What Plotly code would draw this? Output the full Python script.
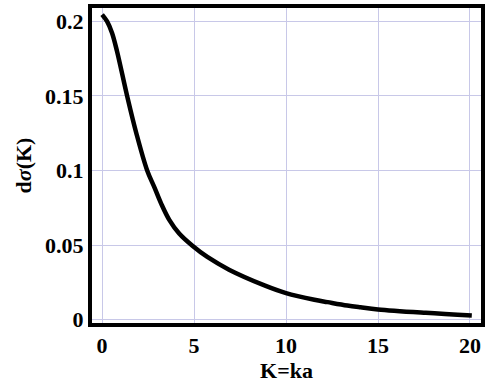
import plotly.graph_objects as go

K = [0.0, 0.27, 0.54, 0.81, 1.36, 1.86, 2.45, 2.85, 3.21, 3.66, 4.19, 4.91, 5.72, 6.9, 8.86, 10.0, 11.54, 12.26, 13.33, 14.05, 15.0, 17.6, 20.1]
dsigma = [0.2046, 0.200, 0.1923, 0.180, 0.150, 0.125, 0.100, 0.0885, 0.0778, 0.0667, 0.0577, 0.0495, 0.042, 0.0335, 0.0228, 0.0178, 0.0133, 0.0117, 0.0094, 0.0082, 0.0068, 0.0045, 0.0027]

x_ticks = [0, 5, 10, 15, 20]
y_ticks = [0, 0.05, 0.1, 0.15, 0.2]
y_tick_text = ["0", "0.05", "0.1", "0.15", "0.2"]

FAM = "Liberation Serif"
font = dict(family=FAM, size=22, color="black")

fig = go.Figure()
fig.add_trace(go.Scatter(x=K, y=dsigma, mode="lines", line=dict(color="black", width=4.5, shape="spline", smoothing=1.0)))

fig.update_layout(
    width=487, height=387,
    margin=dict(l=92, r=2, t=8, b=64),
    paper_bgcolor="white", plot_bgcolor="white",
    showlegend=False,
    font=font,
)
fig.update_xaxes(
    range=[-0.55, 20.6], tickvals=x_ticks, ticktext=[f"<b>{v}</b>" for v in x_ticks],
    showgrid=True, gridcolor="#c8c8e8", gridwidth=1, zeroline=False,
    showline=True, linecolor="black", linewidth=4, mirror=True,
    ticks="", tickfont=dict(family=FAM, size=22, color="black"),
    title=dict(text="<b>K=ka</b>", font=dict(family=FAM, size=22, color="black"), standoff=6),
)
fig.update_yaxes(
    range=[-0.0023, 0.209], tickvals=y_ticks, ticktext=[f"<b>{t}</b>" for t in y_tick_text],
    showgrid=True, gridcolor="#c8c8e8", gridwidth=1, zeroline=False,
    showline=True, linecolor="black", linewidth=4, mirror=True,
    ticks="", tickfont=dict(family=FAM, size=22, color="black"),
    title=dict(text="<b>d<i>σ</i>(K)</b>", font=dict(family=FAM, size=22, color="black"), standoff=8),
)
fig.write_html("out.html")
